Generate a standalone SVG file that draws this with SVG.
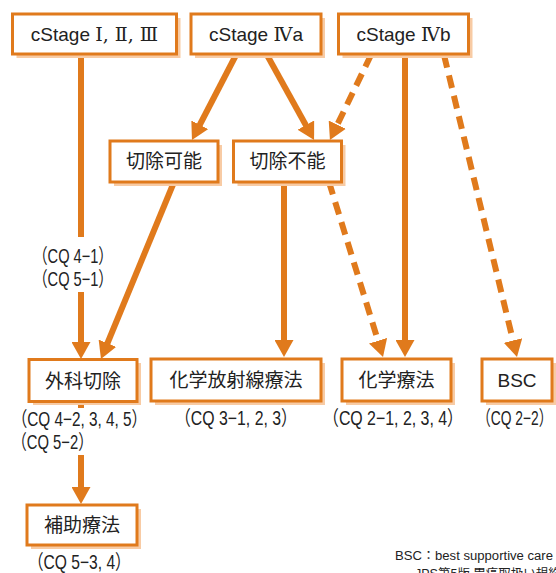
<svg xmlns="http://www.w3.org/2000/svg" width="556" height="573" viewBox="0 0 556 573">
<style>
.sh{fill:#f8cba4;stroke:none}
.bx{fill:#fff;stroke:#e07a1c;stroke-width:3}
.t{font-family:"Liberation Sans","Noto Sans CJK JP",sans-serif;font-size:19px;fill:#222;text-anchor:middle}
.rn{font-family:"DejaVu Serif","Noto Sans CJK JP",serif}
.lb{font-family:"Liberation Sans","Noto Sans CJK JP",sans-serif;font-size:20px;fill:#222}
.ln{stroke:#e07a1c;stroke-width:6;fill:none}
.ds{stroke-dasharray:13 8}
.nt{font-family:"Liberation Sans","Noto Sans CJK JP",sans-serif;font-size:12.5px;fill:#222}
</style>
<defs>
<marker id="ah" markerUnits="userSpaceOnUse" markerWidth="18" markerHeight="19" viewBox="0 0 18 19" refX="3" refY="9.5" orient="auto">
<path d="M0,0 L17,9.5 L0,19 Z" fill="#e07a1c"/>
</marker>
</defs>
<rect width="556" height="573" fill="#fff"/>

<g id="connectors">
<line class="ln" x1="81" y1="55" x2="81" y2="237"/>
<line class="ln" x1="81" y1="292" x2="81" y2="345" marker-end="url(#ah)"/>
<line class="ln" x1="174" y1="182" x2="106.3" y2="346" marker-end="url(#ah)"/>
<line class="ln" x1="236" y1="55" x2="198.4" y2="127.5" marker-end="url(#ah)"/>
<line class="ln" x1="267" y1="55" x2="307.3" y2="127.7" marker-end="url(#ah)"/>
<line class="ln ds" x1="371" y1="55" x2="336" y2="127.4" marker-end="url(#ah)"/>
<line class="ln" x1="405" y1="55" x2="405" y2="343" marker-end="url(#ah)"/>
<line class="ln ds" x1="444" y1="55" x2="513.7" y2="343.4" marker-end="url(#ah)"/>
<line class="ln" x1="284" y1="182" x2="284" y2="343" marker-end="url(#ah)"/>
<line class="ln ds" x1="329" y1="182" x2="378.9" y2="343.6" marker-end="url(#ah)"/>
<line class="ln" x1="81" y1="402" x2="81" y2="408"/>
<line class="ln" x1="81" y1="455" x2="81" y2="490" marker-end="url(#ah)"/>
</g>

<g id="n-stage123">
<rect class="sh" x="16.5" y="18" width="164" height="40"/>
<rect class="bx" x="12.5" y="14" width="164" height="40"/>
<text class="t" x="94.5" y="40.5">cStage <tspan class="rn">Ⅰ, Ⅱ, Ⅲ</tspan></text>
</g>
<g id="n-stage4a">
<rect class="sh" x="195" y="18" width="130" height="40"/>
<rect class="bx" x="191" y="14" width="130" height="40"/>
<text class="t" x="256" y="40.5">cStage <tspan class="rn">Ⅳ</tspan>a</text>
</g>
<g id="n-stage4b">
<rect class="sh" x="342.5" y="18" width="130" height="40"/>
<rect class="bx" x="338.5" y="14" width="130" height="40"/>
<text class="t" x="403.5" y="40.5">cStage <tspan class="rn">Ⅳ</tspan>b</text>
</g>
<g id="n-resectable">
<rect class="sh" x="114" y="145" width="108" height="41"/>
<rect class="bx" x="110" y="141" width="108" height="41"/>
<text class="t" x="164" y="168">切除可能</text>
</g>
<g id="n-unresectable">
<rect class="sh" x="237.5" y="145" width="108" height="41"/>
<rect class="bx" x="233.5" y="141" width="108" height="41"/>
<text class="t" x="287.5" y="168">切除不能</text>
</g>
<g id="n-surgery">
<rect class="sh" x="33" y="363" width="108" height="42"/>
<rect class="bx" x="29" y="359.5" width="108" height="42"/>
<text class="t" x="83" y="387.5">外科切除</text>
</g>
<g id="n-chemoradio">
<rect class="sh" x="155" y="363" width="170" height="42"/>
<rect class="bx" x="151" y="359" width="170" height="42"/>
<text class="t" x="236" y="387">化学放射線療法</text>
</g>
<g id="n-chemo">
<rect class="sh" x="346" y="363" width="109" height="42"/>
<rect class="bx" x="342" y="359" width="109" height="42"/>
<text class="t" x="396.5" y="387">化学療法</text>
</g>
<g id="n-bsc">
<rect class="sh" x="486" y="363" width="70" height="42"/>
<rect class="bx" x="482" y="359" width="70" height="42"/>
<text class="t" x="517" y="387">BSC</text>
</g>
<g id="n-adjuvant">
<rect class="sh" x="31" y="509" width="110" height="40"/>
<rect class="bx" x="27" y="505" width="110" height="40"/>
<text class="t" x="82" y="531.5">補助療法</text>
</g>

<g id="labels">
<text class="lb" transform="translate(33,263) scale(0.731,1)">（CQ 4−1）</text>
<text class="lb" transform="translate(33,286) scale(0.731,1)">（CQ 5−1）</text>
<text class="lb" transform="translate(12,426) scale(0.766,1)">（CQ 4−2, 3, 4, 5）</text>
<text class="lb" transform="translate(12,449) scale(0.74,1)">（CQ 5−2）</text>
<text class="lb" transform="translate(175,425) scale(0.792,1)">（CQ 3−1, 2, 3）</text>
<text class="lb" transform="translate(323,425) scale(0.795,1)">（CQ 2−1, 2, 3, 4）</text>
<text class="lb" transform="translate(477,425) scale(0.69,1)">（CQ 2−2）</text>
<text class="lb" transform="translate(28,569) scale(0.78,1)">（CQ 5−3, 4）</text>
<text class="nt" x="395" y="560" textLength="158" lengthAdjust="spacingAndGlyphs">BSC：best supportive care</text>
<text class="nt" x="415" y="578">JPS第5版 胃癌取扱い規約</text>
</g>
</svg>
